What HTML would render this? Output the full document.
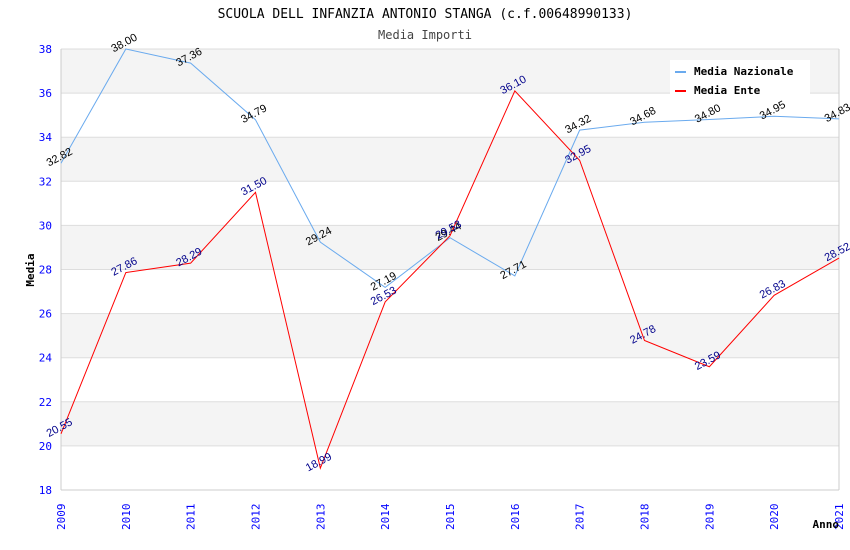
<!DOCTYPE html>
<html><head><meta charset="utf-8"><style>body{margin:0;background:#fff}svg{display:block}</style></head>
<body>
<svg id="c" width="850" height="550" xmlns="http://www.w3.org/2000/svg" font-family="DejaVu Sans Mono, Liberation Mono, monospace">
<text x="425" y="18" text-anchor="middle" font-size="13">SCUOLA DELL INFANZIA ANTONIO STANGA (c.f.00648990133)</text>
<text x="425" y="39" text-anchor="middle" font-size="12" fill="#444">Media Importi</text>
<g id="bands"></g><g id="grid"></g><g id="axes"></g><g id="series"></g>
<text transform="translate(34,270) rotate(-90)" text-anchor="middle" font-size="11" font-weight="bold">Media</text>
<text x="839" y="528" text-anchor="end" font-size="11" font-weight="bold">Anno</text>
<g>
<rect x="670" y="60" width="140" height="38" fill="#fff"/>
<g><line x1="675" y1="72" x2="686" y2="72" stroke="#6aaaee" stroke-width="2"/><text x="694" y="75" font-size="11" font-weight="bold">Media Nazionale</text></g>
<g><line x1="675" y1="91" x2="686" y2="91" stroke="#f00" stroke-width="2"/><text x="694" y="94" font-size="11" font-weight="bold">Media Ente</text></g>
</g>
</svg>
<script>
const years=[2009,2010,2011,2012,2013,2014,2015,2016,2017,2018,2019,2020,2021];
const nazionale=[32.82,38.00,37.36,34.79,29.24,27.19,29.44,27.71,34.32,34.68,34.80,34.95,34.83];
const ente=[20.55,27.86,28.29,31.50,18.99,26.53,29.53,36.10,32.95,24.78,23.59,26.83,28.52];
const yTicks=[18,20,22,24,26,28,30,32,34,36,38];
const NS="http://www.w3.org/2000/svg";
const L=61,R=839,T=49,B=490,yMin=18,yMax=38;
const xs=i=>L+(R-L)*i/(years.length-1);
const ys=v=>B-(v-yMin)/(yMax-yMin)*(B-T);
function mk(p,t,a){const e=document.createElementNS(NS,t);for(const k in a)e.setAttribute(k,a[k]);document.getElementById(p).appendChild(e);return e;}
for(let i=0;i<yTicks.length-1;i++){
 const b=mk('bands','rect',{x:L,y:ys(yTicks[i+1]),width:R-L,height:ys(yTicks[i])-ys(yTicks[i+1]),fill:(i%2===1)?'#f4f4f4':'#fff'});
 
 
}
yTicks.forEach(v=>{
 const g=mk('grid','line',{x1:L,x2:R,y1:ys(v),y2:ys(v),stroke:'#ddd'});
 
 
 const t=mk('axes','text',{x:L-9,y:ys(v)+4,'text-anchor':'end','font-size':11,fill:'#00f'});
 
 
 t.textContent=v;
});
mk('axes','line',{x1:L,x2:L,y1:T,y2:B,stroke:'#ccc'});
mk('axes','line',{x1:R,x2:R,y1:T,y2:B,stroke:'#ccc'});
mk('axes','line',{x1:L,x2:R,y1:B,y2:B,stroke:'#ccc'});
years.forEach((y,i)=>{
 const t=mk('axes','text',{transform:`translate(${xs(i)+4},${B+40}) rotate(-90)`,'font-size':11,fill:'#00f'});
 
 
 t.textContent=y;
});
function series(d,color,lc,name){
 const p=mk('series','polyline',{points:d.map((v,i)=>xs(i)+','+ys(v)).join(' '),fill:'none',stroke:color,'stroke-width':1});
 
 
 d.forEach((v,i)=>{
  const t=mk('series','text',{transform:`translate(${xs(i)},${ys(v)-3}) rotate(-28)`,'text-anchor':'middle','font-size':11,fill:lc,'font-family':'Liberation Sans, sans-serif'});
  
  
  t.textContent=v.toFixed(2);
 });
}
series(nazionale,'#6aaaee','#000','nazionale');
series(ente,'#f00','#00008b','ente');
</script>
</body></html>
